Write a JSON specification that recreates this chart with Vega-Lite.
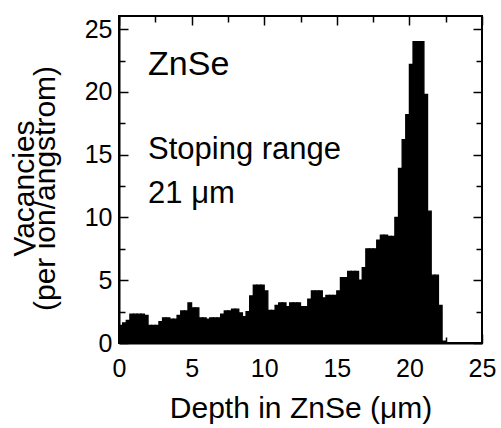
{
  "$schema": "https://vega.github.io/schema/vega-lite/v6.json",
  "width": 363,
  "height": 327,
  "autosize": "none",
  "padding": {"left": 119, "top": 16, "right": 19, "bottom": 85},
  "background": "white",
  "config": {
    "font": "Liberation Sans",
    "view": {"stroke": "black", "strokeWidth": 2},
    "axis": {
      "grid": false,
      "domainColor": "black",
      "domainWidth": 2,
      "tickColor": "black",
      "tickWidth": 1.5,
      "labelColor": "black",
      "labelFont": "Liberation Sans",
      "labelFontSize": 25,
      "titleColor": "black",
      "titleFont": "Liberation Sans",
      "titleFontWeight": "normal",
      "labelFlush": false,
      "labelOverlap": false
    }
  },
  "datasets": {
    "vac": [
      {"d0": 0.0, "d1": 0.25, "v": 1.4},
      {"d0": 0.25, "d1": 0.5, "v": 1.6},
      {"d0": 0.5, "d1": 0.75, "v": 1.8},
      {"d0": 0.75, "d1": 1.0, "v": 2.3},
      {"d0": 1.0, "d1": 1.25, "v": 2.3},
      {"d0": 1.25, "d1": 1.5, "v": 2.3},
      {"d0": 1.5, "d1": 1.75, "v": 2.3},
      {"d0": 1.75, "d1": 2.0, "v": 2.2},
      {"d0": 2.0, "d1": 2.25, "v": 1.4},
      {"d0": 2.25, "d1": 2.5, "v": 1.4},
      {"d0": 2.5, "d1": 2.75, "v": 1.4},
      {"d0": 2.75, "d1": 3.0, "v": 1.7},
      {"d0": 3.0, "d1": 3.25, "v": 2.0},
      {"d0": 3.25, "d1": 3.5, "v": 2.0},
      {"d0": 3.5, "d1": 3.75, "v": 1.9},
      {"d0": 3.75, "d1": 4.0, "v": 1.9},
      {"d0": 4.0, "d1": 4.25, "v": 2.2},
      {"d0": 4.25, "d1": 4.5, "v": 2.55},
      {"d0": 4.5, "d1": 4.75, "v": 2.55},
      {"d0": 4.75, "d1": 5.0, "v": 3.2},
      {"d0": 5.0, "d1": 5.25, "v": 2.8},
      {"d0": 5.25, "d1": 5.5, "v": 2.8},
      {"d0": 5.5, "d1": 5.75, "v": 2.0},
      {"d0": 5.75, "d1": 6.0, "v": 2.0},
      {"d0": 6.0, "d1": 6.25, "v": 1.9},
      {"d0": 6.25, "d1": 6.5, "v": 2.0},
      {"d0": 6.5, "d1": 6.75, "v": 2.0},
      {"d0": 6.75, "d1": 7.0, "v": 2.0},
      {"d0": 7.0, "d1": 7.25, "v": 2.3},
      {"d0": 7.25, "d1": 7.5, "v": 2.55},
      {"d0": 7.5, "d1": 7.75, "v": 2.55},
      {"d0": 7.75, "d1": 8.0, "v": 2.7},
      {"d0": 8.0, "d1": 8.25, "v": 2.7},
      {"d0": 8.25, "d1": 8.5, "v": 2.4},
      {"d0": 8.5, "d1": 8.75, "v": 2.1},
      {"d0": 8.75, "d1": 9.0, "v": 2.5},
      {"d0": 9.0, "d1": 9.25, "v": 3.75},
      {"d0": 9.25, "d1": 9.5, "v": 4.6},
      {"d0": 9.5, "d1": 9.75, "v": 4.6},
      {"d0": 9.75, "d1": 10.0, "v": 4.6},
      {"d0": 10.0, "d1": 10.25, "v": 4.15},
      {"d0": 10.25, "d1": 10.5, "v": 2.6},
      {"d0": 10.5, "d1": 10.75, "v": 2.6},
      {"d0": 10.75, "d1": 11.0, "v": 3.0},
      {"d0": 11.0, "d1": 11.25, "v": 3.2},
      {"d0": 11.25, "d1": 11.5, "v": 3.2},
      {"d0": 11.5, "d1": 11.75, "v": 2.9},
      {"d0": 11.75, "d1": 12.0, "v": 3.2},
      {"d0": 12.0, "d1": 12.25, "v": 3.2},
      {"d0": 12.25, "d1": 12.5, "v": 3.2},
      {"d0": 12.5, "d1": 12.75, "v": 2.9},
      {"d0": 12.75, "d1": 13.0, "v": 2.9},
      {"d0": 13.0, "d1": 13.25, "v": 3.5},
      {"d0": 13.25, "d1": 13.5, "v": 4.15},
      {"d0": 13.5, "d1": 13.75, "v": 4.15},
      {"d0": 13.75, "d1": 14.0, "v": 4.15},
      {"d0": 14.0, "d1": 14.25, "v": 3.6},
      {"d0": 14.25, "d1": 14.5, "v": 3.8},
      {"d0": 14.5, "d1": 14.75, "v": 3.8},
      {"d0": 14.75, "d1": 15.0, "v": 3.8},
      {"d0": 15.0, "d1": 15.25, "v": 4.15},
      {"d0": 15.25, "d1": 15.5, "v": 5.2},
      {"d0": 15.5, "d1": 15.75, "v": 5.2},
      {"d0": 15.75, "d1": 16.0, "v": 5.7},
      {"d0": 16.0, "d1": 16.25, "v": 5.7},
      {"d0": 16.25, "d1": 16.5, "v": 5.7},
      {"d0": 16.5, "d1": 16.75, "v": 5.0},
      {"d0": 16.75, "d1": 17.0, "v": 6.0},
      {"d0": 17.0, "d1": 17.25, "v": 7.5},
      {"d0": 17.25, "d1": 17.5, "v": 7.5},
      {"d0": 17.5, "d1": 17.75, "v": 7.5},
      {"d0": 17.75, "d1": 18.0, "v": 8.2},
      {"d0": 18.0, "d1": 18.25, "v": 8.6},
      {"d0": 18.25, "d1": 18.5, "v": 8.6},
      {"d0": 18.5, "d1": 18.75, "v": 8.5},
      {"d0": 18.75, "d1": 19.0, "v": 8.5},
      {"d0": 19.0, "d1": 19.25, "v": 10.0},
      {"d0": 19.25, "d1": 19.5, "v": 13.9},
      {"d0": 19.5, "d1": 19.75, "v": 16.2},
      {"d0": 19.75, "d1": 20.0, "v": 18.2},
      {"d0": 20.0, "d1": 20.25, "v": 22.2},
      {"d0": 20.25, "d1": 20.5, "v": 24.0},
      {"d0": 20.5, "d1": 20.75, "v": 24.0},
      {"d0": 20.75, "d1": 21.0, "v": 24.0},
      {"d0": 21.0, "d1": 21.25, "v": 19.8},
      {"d0": 21.25, "d1": 21.5, "v": 10.5},
      {"d0": 21.5, "d1": 21.75, "v": 5.4},
      {"d0": 21.75, "d1": 22.0, "v": 5.4},
      {"d0": 22.0, "d1": 22.25, "v": 3.0},
      {"d0": 22.25, "d1": 22.5, "v": 0.15}
    ],
    "notes": [
      {"label": "ZnSe", "kind": "sample", "x": 2.0, "y": 21.35},
      {"label": "Stoping range", "kind": "range", "x": 2.0, "y": 14.66},
      {"label": "21 μm", "kind": "range", "x": 2.0, "y": 11.16}
    ]
  },
  "layer": [
    {
      "data": {"name": "vac"},
      "mark": {"type": "bar", "color": "black", "stroke": "black", "strokeWidth": 1.3, "strokeJoin": "miter"},
      "encoding": {
        "x": {
          "field": "d0", "type": "quantitative",
          "scale": {"domain": [0, 25], "nice": false},
          "axis": {
            "orient": "bottom",
            "values": [0, 2.5, 5, 7.5, 10, 12.5, 15, 17.5, 20, 22.5, 25],
            "labelExpr": "datum.value % 5 === 0 ? datum.label : ''",
            "tickSize": {"condition": {"test": "datum.value % 5 === 0", "value": -9}, "value": -6},
            "labelPadding": 22,
            "title": "Depth in ZnSe (μm)",
            "titleFontSize": 30,
            "titleBaseline": "alphabetic",
            "titleY": 74
          }
        },
        "x2": {"field": "d1"},
        "y": {
          "field": "v", "type": "quantitative",
          "scale": {"domain": [0, 26.05], "nice": false},
          "axis": {
            "orient": "left",
            "values": [0, 2.5, 5, 7.5, 10, 12.5, 15, 17.5, 20, 22.5, 25],
            "labelExpr": "datum.value % 5 === 0 ? datum.label : ''",
            "tickSize": {"condition": {"test": "datum.value % 5 === 0", "value": -9}, "value": -6},
            "labelPadding": 16,
            "title": ["Vacancies", "(per ion/angstrom)"],
            "titleFontSize": 30,
            "titleLineHeight": 21,
            "titleBaseline": "alphabetic",
            "titleX": -86,
            "titleY": 172
          }
        },
        "y2": {"datum": 0}
      }
    },
    {
      "data": {"name": "vac"},
      "mark": {"type": "point", "opacity": 0},
      "encoding": {
        "x": {
          "field": "d0", "type": "quantitative",
          "scale": {"domain": [0, 25], "nice": false},
          "axis": {
            "orient": "top",
            "values": [0, 2.5, 5, 7.5, 10, 12.5, 15, 17.5, 20, 22.5, 25],
            "labels": false,
            "domain": false,
            "tickSize": {"condition": {"test": "datum.value % 5 === 0", "value": -9}, "value": -6},
            "title": null
          }
        },
        "y": {
          "field": "v", "type": "quantitative",
          "scale": {"domain": [0, 26.05], "nice": false},
          "axis": {
            "orient": "right",
            "values": [0, 2.5, 5, 7.5, 10, 12.5, 15, 17.5, 20, 22.5, 25],
            "labels": false,
            "domain": false,
            "tickSize": {"condition": {"test": "datum.value % 5 === 0", "value": -9}, "value": -6},
            "title": null
          }
        }
      }
    },
    {
      "data": {"name": "notes"},
      "transform": [{"filter": "datum.kind === 'sample'"}],
      "mark": {"type": "text", "align": "left", "baseline": "alphabetic", "fontSize": 34, "font": "Liberation Sans", "color": "black"},
      "encoding": {
        "x": {"field": "x", "type": "quantitative", "scale": {"domain": [0, 25], "nice": false}, "axis": null},
        "y": {"field": "y", "type": "quantitative", "scale": {"domain": [0, 26.05], "nice": false}, "axis": null},
        "text": {"field": "label"}
      }
    },
    {
      "data": {"name": "notes"},
      "transform": [{"filter": "datum.kind === 'range'"}],
      "mark": {"type": "text", "align": "left", "baseline": "alphabetic", "fontSize": 31, "font": "Liberation Sans", "color": "black"},
      "encoding": {
        "x": {"field": "x", "type": "quantitative", "scale": {"domain": [0, 25], "nice": false}, "axis": null},
        "y": {"field": "y", "type": "quantitative", "scale": {"domain": [0, 26.05], "nice": false}, "axis": null},
        "text": {"field": "label"}
      }
    }
  ],
  "resolve": {"axis": {"x": "independent", "y": "independent"}}
}
